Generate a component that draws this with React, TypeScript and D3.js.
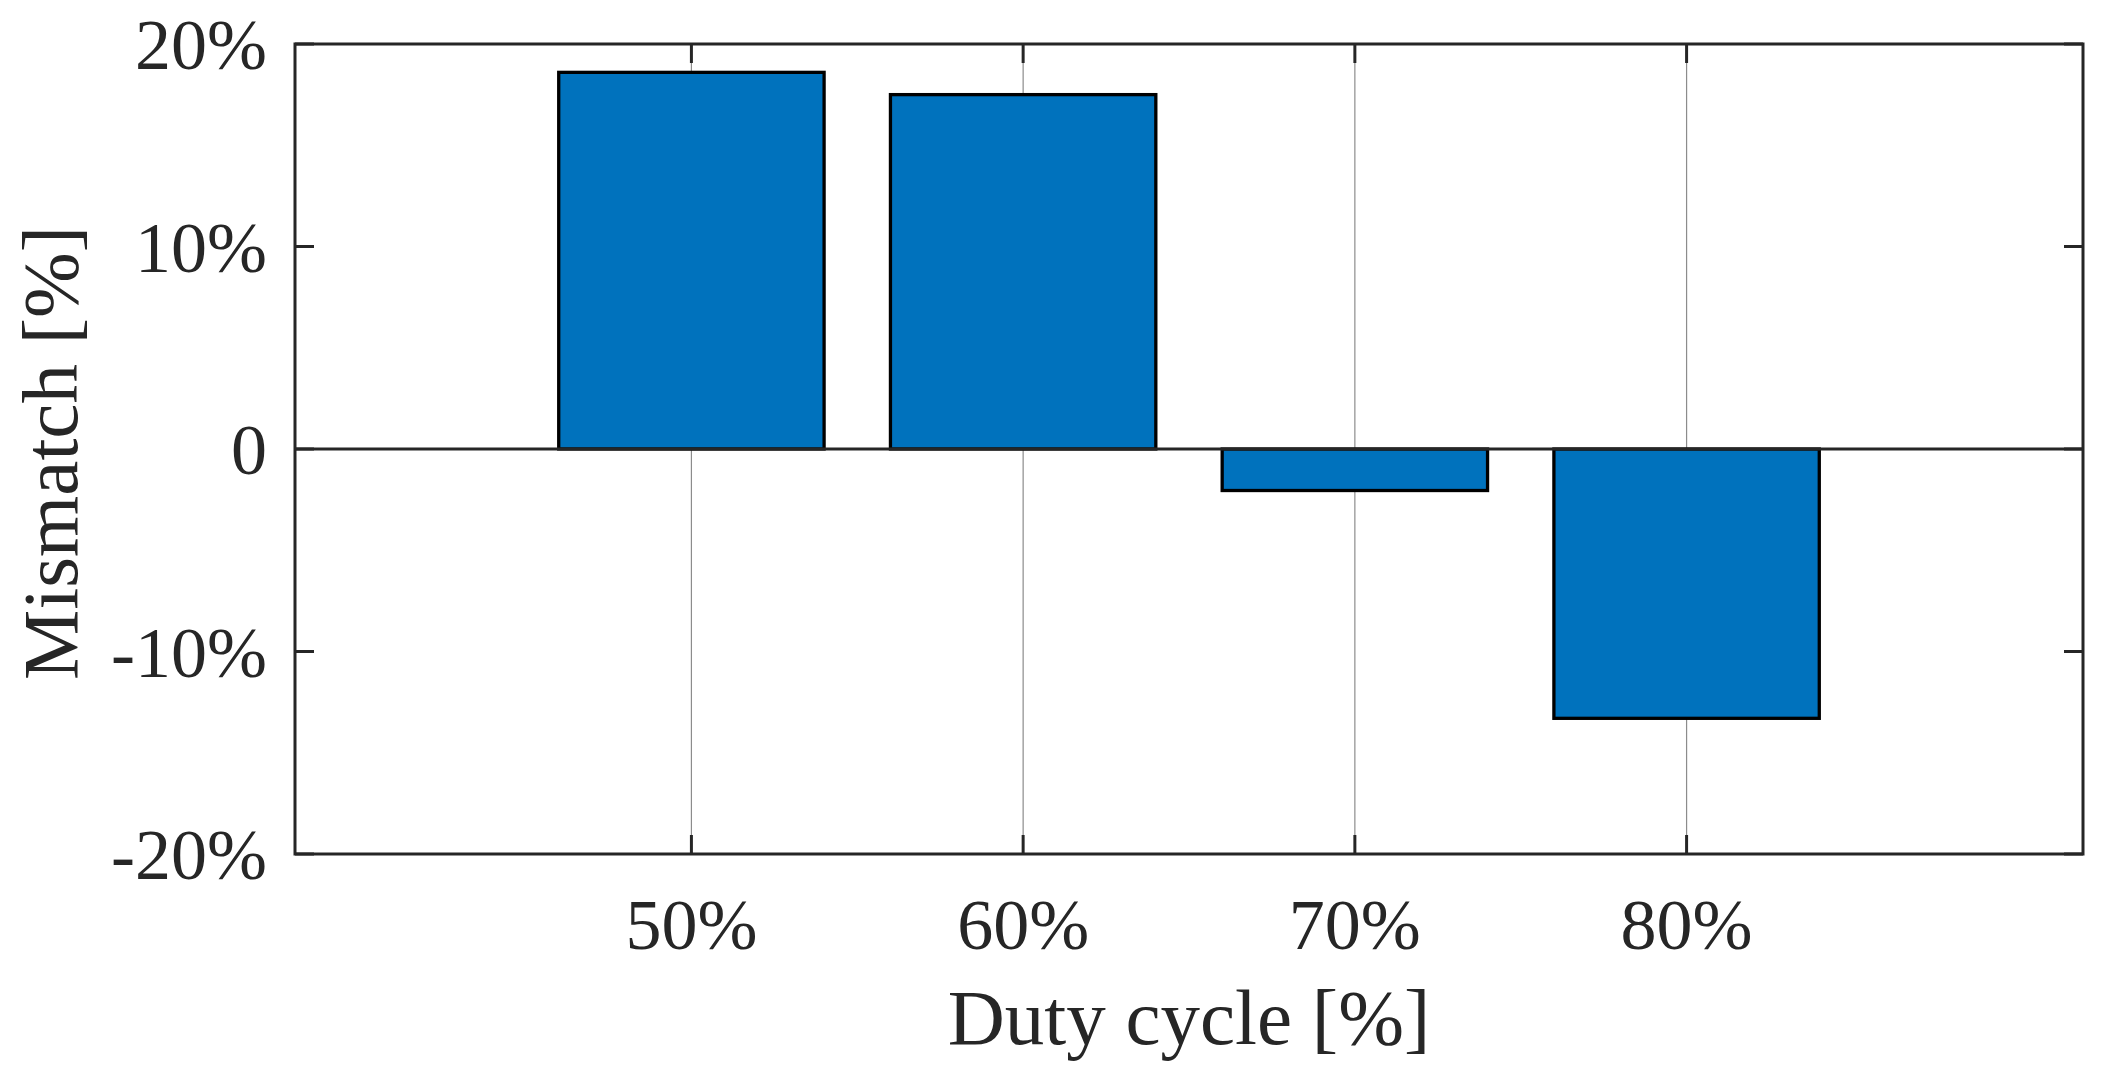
import React from 'react';
import * as d3 from 'd3';

// values
const categories = ['50%', '60%', '70%', '80%'];
const mismatch = [18.6, 17.5, -2.05, -13.3];
const yTicks = [-20, -10, 0, 10, 20];
const yTickLabels = ['-20%', '-10%', '0', '10%', '20%'];

const WIDTH = 2103;
const HEIGHT = 1078;
const plot = { left: 295, right: 2083, top: 44, bottom: 854 };
const axisColor = '#262626';
const barColor = '#0072BD';
const font = "'Liberation Serif', 'Times New Roman', serif";
const tickLen = 19;

export default function App() {
  const idx = categories.map((_, i) => i + 1);

  const x = d3
    .scaleLinear()
    .domain([1 - 1.195, 4 + 1.195])
    .range([plot.left, plot.right]);

  const y = d3
    .scaleLinear()
    .domain([-20, 20])
    .range([plot.bottom, plot.top]);

  const barWidth = (x(2) - x(1)) * 0.8;

  return (
    <svg
      width={WIDTH}
      height={HEIGHT}
      viewBox={`0 0 ${WIDTH} ${HEIGHT}`}
      style={{ position: 'absolute', left: 0, top: 0, background: '#fff' }}
    >
      {/* vertical grid */}
      {idx.map((d) => (
        <line
          key={`g${d}`}
          x1={x(d)}
          x2={x(d)}
          y1={plot.top}
          y2={plot.bottom}
          stroke="#8c8c8c"
          strokeWidth={1.2}
        />
      ))}

      {/* bars */}
      {mismatch.map((v, i) => (
        <rect
          key={categories[i]}
          x={x(idx[i]) - barWidth / 2}
          y={y(Math.max(0, v))}
          width={barWidth}
          height={Math.abs(y(v) - y(0))}
          fill={barColor}
          stroke="#000"
          strokeWidth={3.3}
        />
      ))}

      {/* baseline */}
      <line
        x1={plot.left}
        x2={plot.right}
        y1={y(0)}
        y2={y(0)}
        stroke={axisColor}
        strokeWidth={2.8}
      />

      {/* box */}
      <rect
        x={plot.left}
        y={plot.top}
        width={plot.right - plot.left}
        height={plot.bottom - plot.top}
        fill="none"
        stroke={axisColor}
        strokeWidth={3}
      />

      {/* y ticks */}
      {yTicks.map((t, i) => (
        <g key={`y${t}`}>
          <line x1={plot.left} x2={plot.left + tickLen} y1={y(t)} y2={y(t)} stroke={axisColor} strokeWidth={3} />
          <line x1={plot.right} x2={plot.right - tickLen} y1={y(t)} y2={y(t)} stroke={axisColor} strokeWidth={3} />
          <text
            x={267}
            y={y(t) + 25}
            textAnchor="end"
            fontFamily={font}
            fontSize={72}
            fill={axisColor}
          >
            {yTickLabels[i]}
          </text>
        </g>
      ))}

      {/* x ticks */}
      {idx.map((d, i) => (
        <g key={`x${d}`}>
          <line x1={x(d)} x2={x(d)} y1={plot.bottom} y2={plot.bottom - tickLen} stroke={axisColor} strokeWidth={3} />
          <line x1={x(d)} x2={x(d)} y1={plot.top} y2={plot.top + tickLen} stroke={axisColor} strokeWidth={3} />
          <text
            x={x(d)}
            y={949}
            textAnchor="middle"
            fontFamily={font}
            fontSize={72}
            fill={axisColor}
          >
            {categories[i]}
          </text>
        </g>
      ))}

      {/* axis labels */}
      <text
        x={(plot.left + plot.right) / 2}
        y={1044}
        textAnchor="middle"
        fontFamily={font}
        fontSize={79}
        fill={axisColor}
      >
        Duty cycle [%]
      </text>
      <text
        transform={`translate(77, ${(plot.top + plot.bottom) / 2 + 4}) rotate(-90)`}
        textAnchor="middle"
        fontFamily={font}
        fontSize={79}
        fill={axisColor}
      >
        Mismatch [%]
      </text>
    </svg>
  );
}
